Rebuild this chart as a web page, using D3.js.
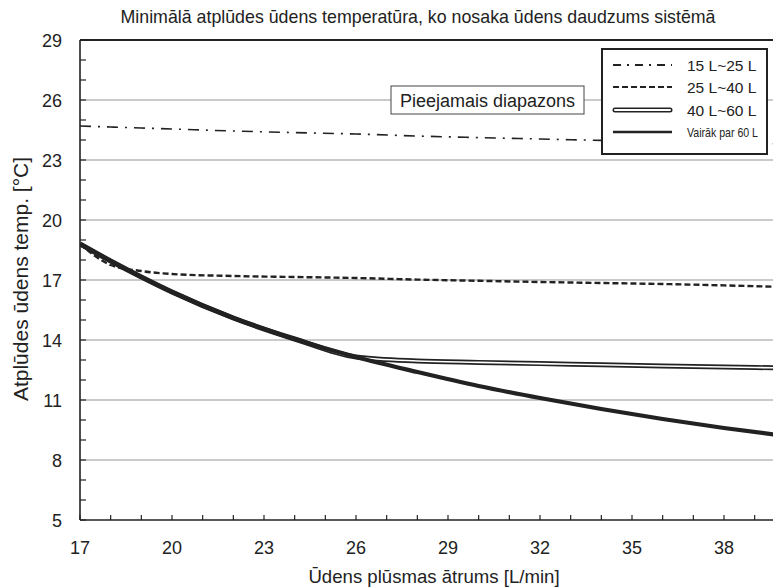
<!DOCTYPE html>
<html><head><meta charset="utf-8">
<script src="https://cdn.jsdelivr.net/npm/d3@7"></script>
<style>
body{margin:0;background:#fff}
text{font-family:"Liberation Sans",Arial,sans-serif;fill:#222}
</style>
</head><body>
<svg id="chart" width="773" height="588"></svg>
<script>
// Flow rate [L/min] sample points shared by every series
const flow = [17,18,19,20,22,24,26,28,30,32,34,36,38,40];

// Minimum return water temperature [°C] per system water volume
const vol15to25 = [24.7,24.65,24.6,24.55,24.45,24.37,24.3,24.2,24.12,24.05,23.98,23.92,23.86,23.8];
const vol25to40 = [18.8,17.75,17.45,17.3,17.2,17.15,17.1,17.02,16.96,16.9,16.85,16.8,16.73,16.65];
const vol40to60 = [18.8,17.95,17.15,16.4,15.1,14.05,13.15,12.95,12.88,12.82,12.76,12.7,12.65,12.6];
const volOver60 = [18.8,17.95,17.15,16.4,15.1,14.05,13.15,12.4,11.7,11.1,10.55,10.05,9.6,9.2];

const seriesNames = ["15 L~25 L","25 L~40 L","40 L~60 L","Vairāk par 60 L"];
const xTickLabels = [17,20,23,26,29,32,35,38];
const yTickLabels = [5,8,11,14,17,20,23,26,29];

const titleText = "Minimālā atplūdes ūdens temperatūra, ko nosaka ūdens daudzums sistēmā";
const xTitle = "Ūdens plūsmas ātrums [L/min]";
const yTitle = "Atplūdes ūdens temp. [°C]";
const rangeNote = "Pieejamais diapazons";

const svg = d3.select("#chart");
const mLeft = 80, mTop = 40, mBottom = 520, mRight = 773;

const x = d3.scaleLinear().domain([17, 40]).range([mLeft, mLeft + 23 * 92 / 3]);
const y = d3.scaleLinear().domain([5, 29]).range([mBottom, mTop]);

svg.append("defs").append("clipPath").attr("id","plotClip")
  .append("rect").attr("x",mLeft).attr("y",mTop).attr("width",mRight-mLeft).attr("height",mBottom-mTop);

// Horizontal gridlines at the labelled temperatures
svg.append("g").selectAll("line").data(yTickLabels.slice(1,-1)).join("line")
  .attr("x1",mLeft).attr("x2",mRight).attr("y1",d=>y(d)).attr("y2",d=>y(d))
  .attr("stroke","#b8b8b8").attr("stroke-width",1.3);

// Series lines
const line = d3.line().x((d,i)=>x(flow[i])).y(d=>y(d)).curve(d3.curveMonotoneX);
const plot = svg.append("g").attr("clip-path","url(#plotClip)");

plot.append("path").attr("d",line(vol15to25)).attr("fill","none")
  .attr("stroke","#222").attr("stroke-width",1.6).attr("stroke-dasharray","11,7,2,7");
plot.append("path").attr("d",line(vol25to40)).attr("fill","none")
  .attr("stroke","#222").attr("stroke-width",2.4).attr("stroke-dasharray","6,3");
plot.append("path").attr("d",line(vol40to60)).attr("fill","none")
  .attr("stroke","#222").attr("stroke-width",5);
plot.append("path").attr("d",line(vol40to60)).attr("fill","none")
  .attr("stroke","#fff").attr("stroke-width",1.6);
plot.append("path").attr("d",line(volOver60)).attr("fill","none")
  .attr("stroke","#222").attr("stroke-width",4.2);

// Axes frame
svg.append("line").attr("x1",mLeft).attr("x2",mRight).attr("y1",mTop).attr("y2",mTop)
  .attr("stroke","#222").attr("stroke-width",2);
svg.append("line").attr("x1",mLeft).attr("x2",mLeft).attr("y1",mTop).attr("y2",mBottom)
  .attr("stroke","#222").attr("stroke-width",1.6);
svg.append("line").attr("x1",mLeft).attr("x2",mRight).attr("y1",mBottom).attr("y2",mBottom)
  .attr("stroke","#222").attr("stroke-width",1.6);

// Y ticks (inward), every degree
const yMinor = d3.range(5, 30, 1);
svg.append("g").selectAll("line").data(yMinor).join("line")
  .attr("x1",mLeft).attr("x2",mLeft+6).attr("y1",d=>y(d)).attr("y2",d=>y(d))
  .attr("stroke","#222").attr("stroke-width",1.2);
svg.append("g").selectAll("text").data(yTickLabels).join("text")
  .attr("x",mLeft-18).attr("y",d=>y(d)+6.5).attr("text-anchor","end")
  .attr("font-size",18).text(d=>d);

// X ticks (inward), every L/min
const xMinor = d3.range(17, 41, 1);
svg.append("g").selectAll("line").data(xMinor).join("line")
  .attr("x1",d=>x(d)).attr("x2",d=>x(d)).attr("y1",mBottom).attr("y2",mBottom-5)
  .attr("stroke","#222").attr("stroke-width",1.2);
svg.append("g").selectAll("text").data(xTickLabels).join("text")
  .attr("x",d=>x(d)).attr("y",mBottom+34).attr("text-anchor","middle")
  .attr("font-size",18).text(d=>d);

// Titles
svg.append("text").attr("x",418).attr("y",23).attr("text-anchor","middle")
  .attr("font-size",17.8).text(titleText);
svg.append("text").attr("x",434).attr("y",583).attr("text-anchor","middle")
  .attr("font-size",18.6).text(xTitle);
svg.append("text").attr("transform","translate(28,279) rotate(-90)")
  .attr("text-anchor","middle").attr("font-size",21).text(yTitle);

// Available range note
const note = svg.append("g");
note.append("rect").attr("x",391).attr("y",86).attr("width",193).attr("height",28)
  .attr("fill","#fff").attr("stroke","#444").attr("stroke-width",1);
note.append("text").attr("x",487.5).attr("y",106.5).attr("text-anchor","middle")
  .attr("font-size",18).text(rangeNote);

// Legend
const lg = svg.append("g");
lg.append("rect").attr("x",602).attr("y",49).attr("width",165).attr("height",105)
  .attr("fill","#fff").attr("stroke","#222").attr("stroke-width",2);
const rowY = [65,87,110,132];
const lx1 = 613, lx2 = 672;
lg.append("line").attr("x1",lx1).attr("x2",lx2).attr("y1",rowY[0]).attr("y2",rowY[0])
  .attr("stroke","#222").attr("stroke-width",1.8).attr("stroke-dasharray","8,6,2,6");
lg.append("line").attr("x1",lx1).attr("x2",lx2).attr("y1",rowY[1]).attr("y2",rowY[1])
  .attr("stroke","#222").attr("stroke-width",2.2).attr("stroke-dasharray","6,3");
lg.append("line").attr("x1",lx1+2).attr("x2",lx2-2).attr("y1",rowY[2]).attr("y2",rowY[2])
  .attr("stroke","#222").attr("stroke-width",5).attr("stroke-linecap","round");
lg.append("line").attr("x1",lx1+2).attr("x2",lx2-2).attr("y1",rowY[2]).attr("y2",rowY[2])
  .attr("stroke","#fff").attr("stroke-width",2).attr("stroke-linecap","round");
lg.append("line").attr("x1",lx1).attr("x2",lx2).attr("y1",rowY[3]).attr("y2",rowY[3])
  .attr("stroke","#222").attr("stroke-width",2.4);
lg.selectAll("text").data(seriesNames).join("text")
  .attr("x",687).attr("y",(d,i)=>rowY[i]+(i===3?4.5:5.5))
  .attr("font-size",(d,i)=>i===3?13:15.5)
  .attr("textLength",(d,i)=>i===3?71:null)
  .attr("lengthAdjust","spacingAndGlyphs")
  .text(d=>d);
</script>
</body></html>
